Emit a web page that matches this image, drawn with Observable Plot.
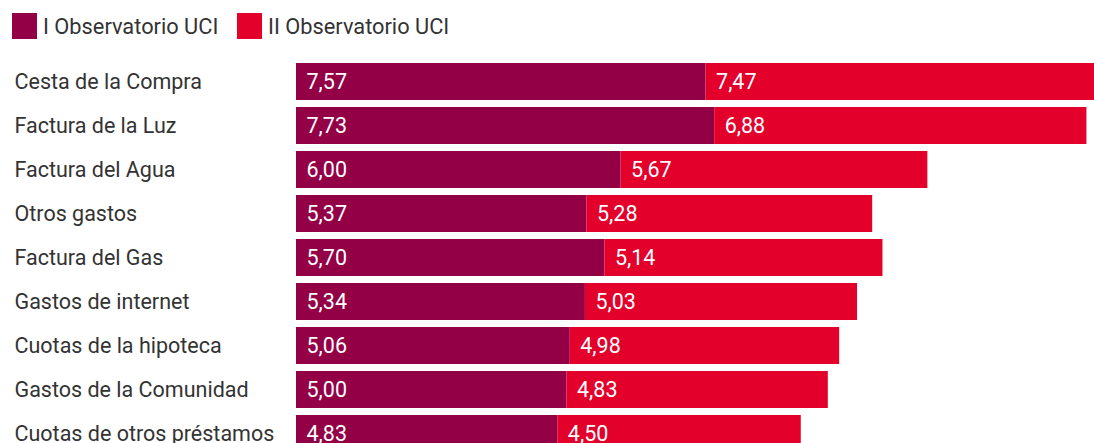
<!DOCTYPE html>
<html>
<head>
<meta charset="utf-8">
<script src="https://cdn.jsdelivr.net/npm/d3@7"></script>
<script src="https://cdn.jsdelivr.net/npm/@observablehq/plot@0.6"></script>
<style>
  html, body { margin: 0; padding: 0; background: #fff; overflow: hidden; width: 1094px; height: 443px; }
  body { font-family: Roboto, "Noto Sans", sans-serif; color: #333; }
  .legend { height: 52px; position: relative; font-size: 21.8px; }
  .legend .item { position: absolute; top: 13px; height: 26px; display: flex; align-items: center; }
  .legend .sw { width: 25px; height: 26px; margin-right: 6px; }
  #chart svg { display: block; overflow: hidden; }
</style>
</head>
<body>
<div class="legend" id="legend"></div>
<div id="chart"></div>
<script>
// Gasto por categoría, dos ediciones del Observatorio
const categories = [
  "Cesta de la Compra",
  "Factura de la Luz",
  "Factura del Agua",
  "Otros gastos",
  "Factura del Gas",
  "Gastos de internet",
  "Cuotas de la hipoteca",
  "Gastos de la Comunidad",
  "Cuotas de otros préstamos"
];
const seriesNames = ["I Observatorio UCI", "II Observatorio UCI"];
const seriesColors = ["#930046", "#E3002A"];
const valuesI  = [7.57, 7.73, 6.00, 5.37, 5.70, 5.34, 5.06, 5.00, 4.83];
const valuesII = [7.47, 6.88, 5.67, 5.28, 5.14, 5.03, 4.98, 4.83, 4.50];

const rows = [];
categories.forEach((c, i) => {
  rows.push({cat: c, series: seriesNames[0], value: valuesI[i]});
  rows.push({cat: c, series: seriesNames[1], value: valuesII[i]});
});

const fmt = v => v.toFixed(2).replace(".", ",");

// Legend
const legend = document.getElementById("legend");
const legendX = [12, 237];
seriesNames.forEach((s, i) => {
  const item = document.createElement("div");
  item.className = "item";
  item.style.left = legendX[i] + "px";
  const sw = document.createElement("div");
  sw.className = "sw";
  sw.style.background = seriesColors[i];
  const label = document.createElement("span");
  label.textContent = s;
  item.appendChild(sw);
  item.appendChild(label);
  legend.appendChild(item);
});

const chart = Plot.plot({
  width: 1094,
  height: 400,
  marginLeft: 296,
  marginRight: 0,
  marginTop: 0,
  marginBottom: 0,
  style: {fontFamily: "Roboto, 'Noto Sans', sans-serif", fontSize: "21.5px", overflow: "hidden"},
  x: {domain: [0, 14.75], axis: null},
  y: {domain: categories, range: [7, 403], paddingInner: 0.17, paddingOuter: 0.085, label: null},
  color: {domain: seriesNames, range: seriesColors},
  marks: [
    Plot.barX(rows, Plot.stackX({x: "value", y: "cat", z: "series", fill: "series"})),
    Plot.text(rows, Plot.stackX1({
      x: "value", y: "cat", z: "series",
      text: d => fmt(d.value),
      textAnchor: "start", dx: 10, fill: "white", fontSize: 21.5
    })),
    Plot.axisY({
      tickSize: 0, tickPadding: 0, textAnchor: "start", dx: -282,
      fontSize: 21.5, fill: "#333", label: null
    })
  ]
});
document.getElementById("chart").appendChild(chart);
</script>
</body>
</html>
